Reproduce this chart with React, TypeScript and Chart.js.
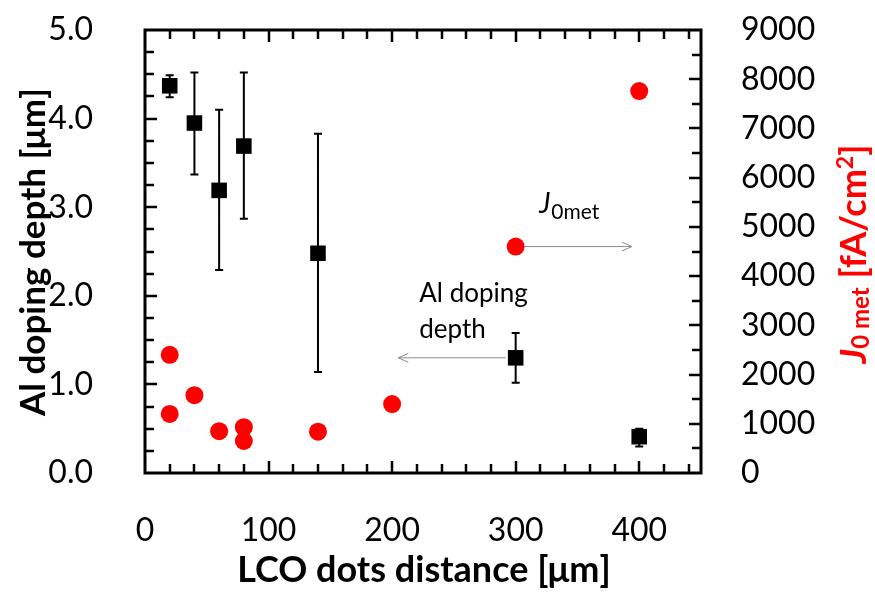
import React, { useEffect, useRef } from "react";
import { Chart, registerables } from "chart.js";

Chart.register(...registerables);

// Al doping depth (left axis) with min/max spread
const depthX = [20, 40, 60, 80, 140, 300, 400];
const depthY = [4.37, 3.95, 3.19, 3.69, 2.48, 1.3, 0.41];
const depthLow = [4.24, 3.37, 2.29, 2.87, 1.14, 1.02, 0.3];
const depthHigh = [4.49, 4.52, 4.1, 4.52, 3.83, 1.58, 0.5];

// J0met (right axis)
const j0X = [20, 20, 40, 60, 80, 80, 140, 200, 300, 400];
const j0Y = [2400, 1200, 1580, 850, 930, 650, 840, 1400, 4600, 7760];

// Tick labels
const xTicks = [0, 100, 200, 300, 400];
const yTicks = [0, 1, 2, 3, 4, 5];
const y2Ticks = [0, 1000, 2000, 3000, 4000, 5000, 6000, 7000, 8000, 9000];

const X_MAX = 450;
const Y_MAX = 5;
const Y2_MAX = 9000;

const FONT = "Lato, 'Open Sans', sans-serif";
const RED = "#FF0000";
const ARROW = "#8c8c8c";

const makeTicks = (vals: number[]) => (scale: any) => {
  scale.ticks = vals.map((v) => ({ value: v }));
};

// Inward tick marks on all four sides plus the plot frame
const framePlugin = {
  id: "frame",
  afterDatasetsDraw(chart: any) {
    const { ctx, chartArea: a, scales } = chart;
    const { x, y, y2 } = scales;
    ctx.save();
    ctx.strokeStyle = "#000";
    ctx.lineWidth = 2.5;
    ctx.beginPath();
    for (let i = 1; i * 20 < X_MAX; i++) {
      const v = i * 20;
      const px = Math.round(x.getPixelForValue(v));
      const len = v % 100 === 0 ? 12 : 9;
      ctx.moveTo(px, a.bottom);
      ctx.lineTo(px, a.bottom - len);
      ctx.moveTo(px, a.top);
      ctx.lineTo(px, a.top + len);
    }
    for (let i = 1; i < 20; i++) {
      const py = Math.round(y.getPixelForValue(i * 0.25));
      const len = i % 4 === 0 ? 12 : 9;
      ctx.moveTo(a.left, py);
      ctx.lineTo(a.left + len, py);
    }
    for (let i = 1; i < 18; i++) {
      const py = Math.round(y2.getPixelForValue(i * 500));
      const len = i % 2 === 0 ? 12 : 9;
      ctx.moveTo(a.right, py);
      ctx.lineTo(a.right - len, py);
    }
    ctx.stroke();
    ctx.lineWidth = 3;
    ctx.strokeRect(a.left, a.top, a.right - a.left, a.bottom - a.top);
    ctx.restore();
  },
};

// Vertical spread bars on the depth markers
const errorBarPlugin = {
  id: "errorBars",
  beforeDatasetsDraw(chart: any) {
    const { ctx, scales } = chart;
    const { x, y } = scales;
    ctx.save();
    ctx.strokeStyle = "#000";
    ctx.lineWidth = 2;
    ctx.beginPath();
    depthX.forEach((xv, i) => {
      const px = x.getPixelForValue(xv);
      const top = y.getPixelForValue(depthHigh[i]);
      const bot = y.getPixelForValue(depthLow[i]);
      ctx.moveTo(px, top);
      ctx.lineTo(px, bot);
      ctx.moveTo(px - 4, top);
      ctx.lineTo(px + 4, top);
      ctx.moveTo(px - 4, bot);
      ctx.lineTo(px + 4, bot);
    });
    ctx.stroke();
    ctx.restore();
  },
};

function arrow(ctx: any, x0: number, y0: number, x1: number, y1: number) {
  const dir = Math.sign(x1 - x0);
  ctx.beginPath();
  ctx.moveTo(x0, y0);
  ctx.lineTo(x1, y1);
  ctx.moveTo(x1 - dir * 10, y1 - 4.5);
  ctx.lineTo(x1, y1);
  ctx.lineTo(x1 - dir * 10, y1 + 4.5);
  ctx.stroke();
}

// Arrows pointing each series to its axis, and the axis titles
const annotationPlugin = {
  id: "annotations",
  afterDatasetsDraw(chart: any) {
    const { ctx, scales } = chart;
    const { x, y, y2 } = scales;
    ctx.save();
    ctx.strokeStyle = ARROW;
    ctx.lineWidth = 1;

    const jy = y2.getPixelForValue(4600);
    arrow(ctx, x.getPixelForValue(300) + 9, jy, x.getPixelForValue(394), jy);
    const dy = y.getPixelForValue(1.3);
    arrow(ctx, x.getPixelForValue(300) - 10, dy, x.getPixelForValue(205), dy);

    ctx.fillStyle = "#000";
    ctx.textBaseline = "alphabetic";
    ctx.textAlign = "left";
    ctx.font = `26px ${FONT}`;
    const ax = x.getPixelForValue(222);
    ctx.fillText("Al doping", ax, y.getPixelForValue(1.93));
    ctx.fillText("depth", ax, y.getPixelForValue(1.52));

    const jx = x.getPixelForValue(319);
    const jb = y2.getPixelForValue(5282);
    ctx.font = `italic 28px ${FONT}`;
    ctx.fillText("J", jx, jb);
    const jw = ctx.measureText("J").width;
    ctx.font = `21px ${FONT}`;
    ctx.fillText("0met", jx + jw + 1, jb + 6);

    // x-axis title
    ctx.font = `bold 36px ${FONT}`;
    ctx.textAlign = "center";
    ctx.fillText("LCO dots distance [μm]", 424, 582);

    // left axis title
    ctx.save();
    ctx.translate(45, 252);
    ctx.rotate(-Math.PI / 2);
    ctx.font = `bold 35px ${FONT}`;
    ctx.fillText("Al doping depth [μm]", 0, 0);
    ctx.restore();

    // right axis title with italic J, subscript and superscript
    ctx.save();
    ctx.translate(866, 254);
    ctx.rotate(-Math.PI / 2);
    ctx.fillStyle = RED;
    ctx.textAlign = "left";
    const segs = [
      { t: "J", f: `italic bold 36px ${FONT}`, dy: 0 },
      { t: "0 met", f: `bold 24px ${FONT}`, dy: 3 },
      { t: " [fA/cm", f: `bold 36px ${FONT}`, dy: 0 },
      { t: "2", f: `bold 23px ${FONT}`, dy: -13 },
      { t: "]", f: `bold 36px ${FONT}`, dy: 0 },
    ];
    let total = 0;
    const widths = segs.map((s) => {
      ctx.font = s.f;
      const w = ctx.measureText(s.t).width;
      total += w;
      return w;
    });
    let cx = -total / 2;
    segs.forEach((s, i) => {
      ctx.font = s.f;
      ctx.fillText(s.t, cx, s.dy);
      cx += widths[i];
    });
    ctx.restore();

    ctx.restore();
  },
};

export default function App() {
  const ref = useRef<HTMLCanvasElement | null>(null);

  useEffect(() => {
    if (!ref.current) return;
    const tickFont = { family: FONT, size: 32 };
    const chart = new Chart(ref.current, {
      type: "scatter",
      data: {
        datasets: [
          {
            label: "Al doping depth",
            data: depthX.map((v, i) => ({ x: v, y: depthY[i] })),
            yAxisID: "y",
            pointStyle: "rect",
            pointRadius: 11,
            pointHoverRadius: 11,
            backgroundColor: "#000",
            borderWidth: 0,
          },
          {
            label: "J0met",
            data: j0X.map((v, i) => ({ x: v, y: j0Y[i] })),
            yAxisID: "y2",
            pointStyle: "circle",
            pointRadius: 9,
            pointHoverRadius: 9,
            backgroundColor: RED,
            borderWidth: 0,
          },
        ],
      },
      options: {
        responsive: false,
        animation: false,
        devicePixelRatio: 1,
        layout: { padding: { top: 30, left: 0, right: 0, bottom: 0 } },
        plugins: {
          legend: { display: false },
          tooltip: { enabled: false },
        },
        scales: {
          x: {
            type: "linear",
            min: 0,
            max: X_MAX,
            afterBuildTicks: makeTicks(xTicks),
            grid: { display: false },
            border: { display: false },
            ticks: {
              font: tickFont,
              color: "#000",
              padding: 30,
              maxRotation: 0,
              callback: (v: any) => String(v),
            },
            afterFit: (s: any) => {
              s.height = 122;
              s.paddingLeft = 0;
              s.paddingRight = 0;
            },
          },
          y: {
            type: "linear",
            position: "left",
            min: 0,
            max: Y_MAX,
            afterBuildTicks: makeTicks(yTicks),
            grid: { display: false },
            border: { display: false },
            ticks: {
              font: tickFont,
              color: "#000",
              padding: 44,
              callback: (v: any) => Number(v).toFixed(1),
            },
            afterFit: (s: any) => {
              s.width = 145;
              s.paddingTop = 0;
              s.paddingBottom = 0;
            },
          },
          y2: {
            type: "linear",
            position: "right",
            min: 0,
            max: Y2_MAX,
            afterBuildTicks: makeTicks(y2Ticks),
            grid: { display: false },
            border: { display: false },
            ticks: {
              font: tickFont,
              color: "#000",
              padding: 32,
              callback: (v: any) => String(v),
            },
            afterFit: (s: any) => {
              s.width = 174;
              s.paddingTop = 0;
              s.paddingBottom = 0;
            },
          },
        },
      },
      plugins: [errorBarPlugin, framePlugin, annotationPlugin],
    });
    return () => chart.destroy();
  }, []);

  return (
    <div style={{ position: "absolute", left: 0, top: 0, width: 875, height: 595, background: "#fff" }}>
      <canvas ref={ref} width={875} height={595} />
    </div>
  );
}
